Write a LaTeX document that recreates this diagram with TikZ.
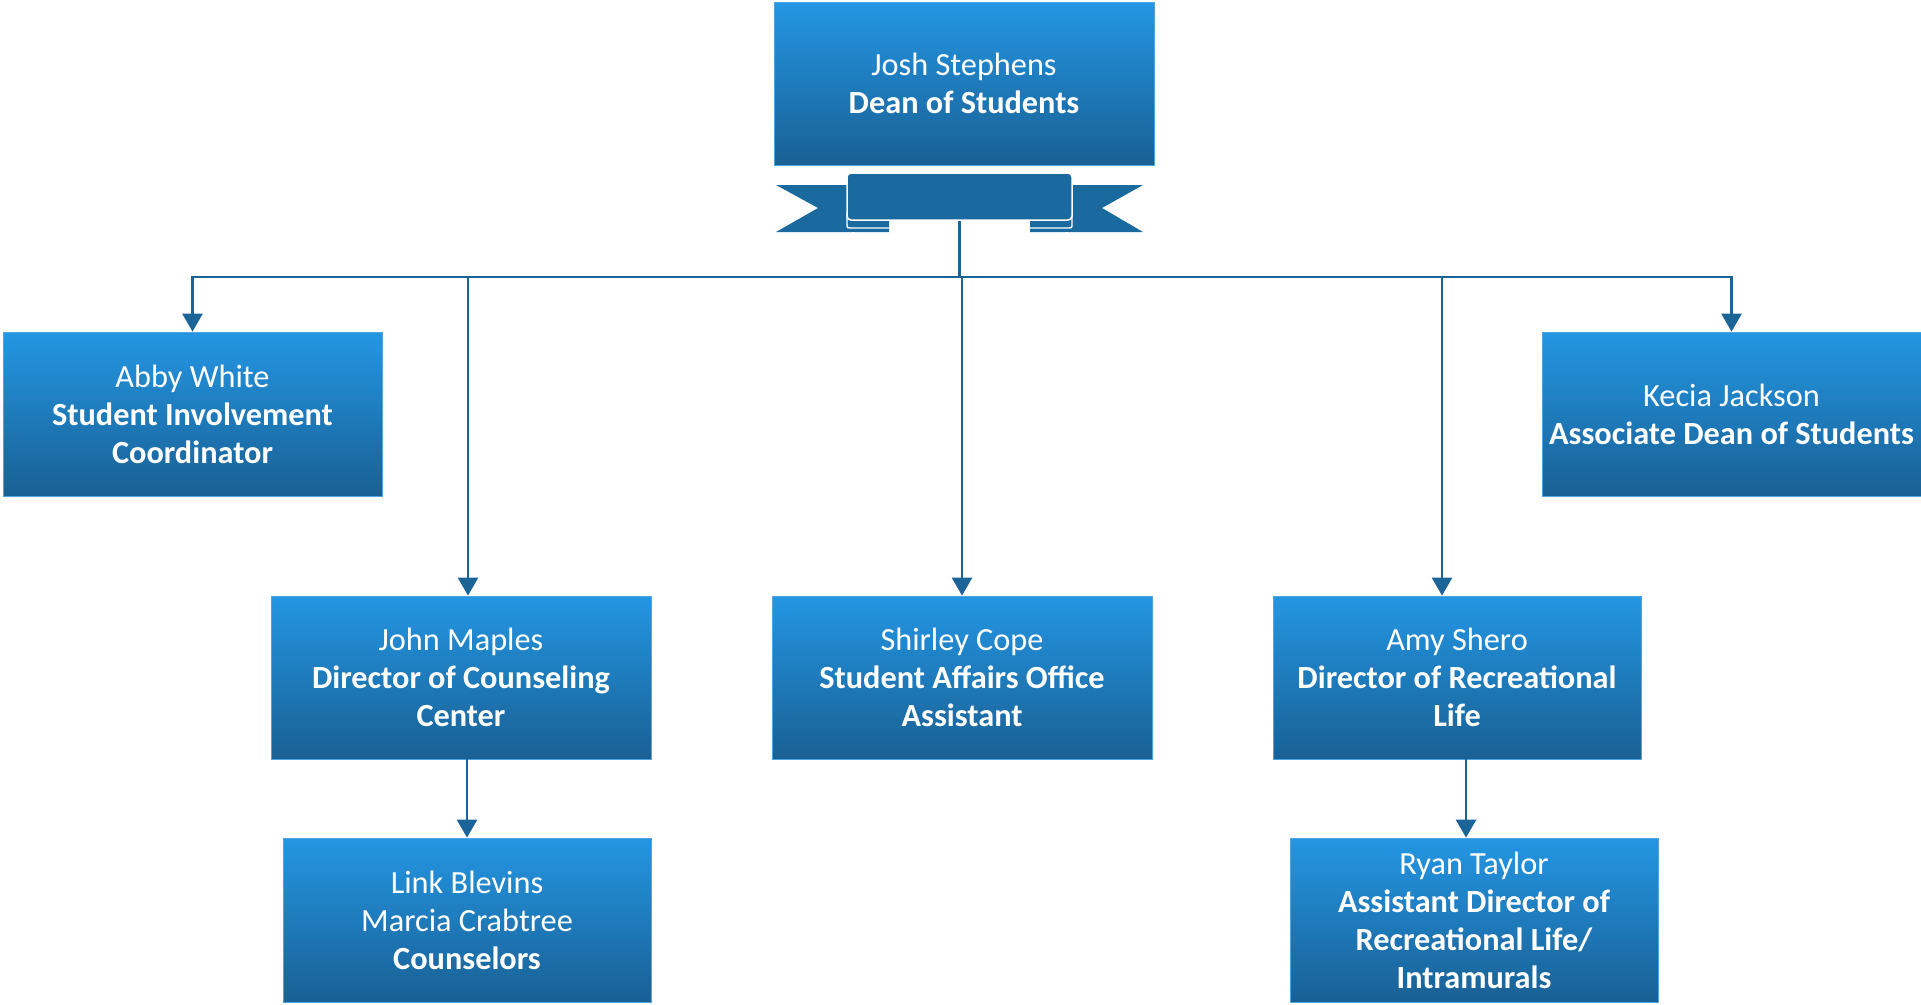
\documentclass[tikz,border=0pt]{standalone}
\usepackage{fontspec}
\setmainfont{Carlito}
\usetikzlibrary{arrows.meta}
\definecolor{boxtop}{RGB}{36,150,227}
\definecolor{boxbot}{RGB}{25,96,148}
\definecolor{linec}{RGB}{27,100,152}
\definecolor{ribc}{RGB}{26,106,160}
\definecolor{edgec}{RGB}{80,165,225}
\begin{document}
\begin{tikzpicture}[x=1pt,y=-1pt,
  box/.style={rectangle, top color=boxtop, bottom color=boxbot, draw=edgec, line width=0.8pt,
    text=white, align=center, font=\fontsize{32.3}{38}\selectfont, inner sep=0pt,
    minimum width=#1, minimum height=163pt},
  box/.default=380pt,
  arr/.style={draw=linec, line width=2.8pt, -{Triangle[width=20pt,length=18pt]}},
  conn/.style={draw=linec, line width=2.8pt},
  banner/.style={draw=white, line width=1.5pt, fill=ribc, rounded corners=4pt,
    minimum width=225pt, minimum height=47pt, inner sep=0pt}]
\useasboundingbox (0,0) rectangle (1921,1004);

% boxes
\node[box] (dean) at (964,83.5) {Josh Stephens\\\textbf{Dean of Students}};
\node[box=379pt, minimum height=164pt] (abby) at (192.5,414) {Abby White\\\textbf{Student Involvement}\\\textbf{Coordinator}};
\node[box=379pt, minimum height=164pt] (kecia) at (1731.5,414) {Kecia Jackson\\\textbf{Associate Dean of Students}};
\node[box] (john) at (461,677.5) {John Maples\\\textbf{Director of Counseling}\\\textbf{Center}};
\node[box] (shirley) at (962,677.5) {Shirley Cope\\\textbf{Student Affairs Office}\\\textbf{Assistant}};
\node[box=368pt] (amy) at (1457,677.5) {Amy Shero\\\textbf{Director of Recreational}\\\textbf{Life}};
\node[box=368pt, minimum height=164pt] (link) at (467,920) {Link Blevins\\Marcia Crabtree\\\textbf{Counselors}};
\node[box=368pt, minimum height=164pt] (ryan) at (1474,920) {Ryan Taylor\\\textbf{Assistant Director of}\\\textbf{Recreational Life/}\\\textbf{Intramurals}};

% ribbon tails
\fill[ribc] (776,185) -- (852,185) -- (852,232) -- (776,232) -- (818,208) -- cycle;
\fill[ribc] (1143,185) -- (1068,185) -- (1068,232) -- (1143,232) -- (1102,208) -- cycle;
% folds
\fill[ribc] (889,219) -- (848,219) -- (848,226) .. controls (848,232) .. (856,232) -- (889,232) -- cycle;
\draw[white, line width=1.4pt] (847,212) -- (847,224) .. controls (847,228) .. (853,228) -- (889,228);
\fill[ribc] (1030,219) -- (1072,219) -- (1072,226) .. controls (1072,232) .. (1064,232) -- (1030,232) -- cycle;
\draw[white, line width=1.4pt] (1072,212) -- (1072,224) .. controls (1072,228) .. (1066,228) -- (1030,228);
% banner
\node[banner] (rib) at (959.5,196.5) {};

% connectors
\coordinate (bus) at (959.5,277);
\coordinate (jn) at ([xshift=7pt]john.north);
\coordinate (an) at ([xshift=-15pt]amy.north);
\coordinate (js) at ([xshift=6pt]john.south);
\coordinate (as) at ([xshift=9pt]amy.south);
\draw[conn] (rib.south) -- (bus);
\draw[arr] (bus) -| (abby.north);
\draw[arr] (bus) -| (kecia.north);
\draw[arr] (jn |- bus) -- (jn);
\draw[arr] (shirley.north |- bus) -- (shirley.north);
\draw[arr] (an |- bus) -- (an);
\draw[arr] (js) -- (js |- link.north);
\draw[arr] (as) -- (as |- ryan.north);
\end{tikzpicture}
\end{document}
